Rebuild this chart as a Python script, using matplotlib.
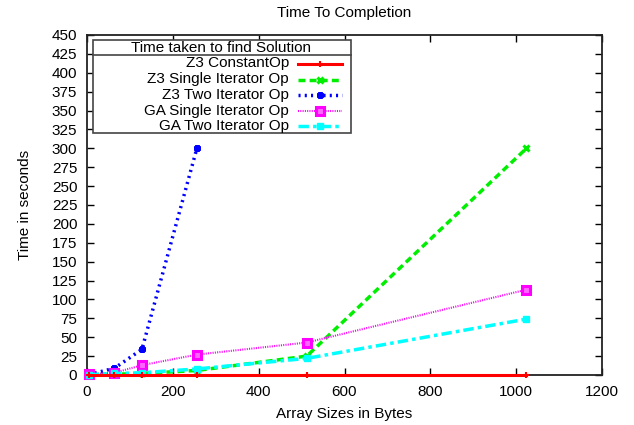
import matplotlib
matplotlib.use("Agg")
import matplotlib.pyplot as plt
from matplotlib.lines import Line2D
from matplotlib.patches import Rectangle

plt.rcParams['font.family'] = ['Liberation Sans', 'DejaVu Sans']

sizes = [4, 64, 128, 256, 512, 1024]
sizes_two = [4, 64, 128, 256]
z3_constant = [0.2, 0.2, 0.2, 0.2, 0.2, 0.2]
z3_single = [0.5, 1, 2, 6, 25, 300]
z3_two = [0.5, 9, 34, 300]
ga_single = [1, 3, 13, 27, 43, 113]
ga_two = [0.5, 2, 3, 8, 22, 74]

title = "Time To Completion"
xlabel = "Array Sizes in Bytes"
ylabel = "Time in seconds"
legend_title = "Time taken to find Solution"
labels = ["Z3 ConstantOp", "Z3 Single Iterator Op", "Z3 Two Iterator Op",
          "GA Single Iterator Op", "GA Two Iterator Op"]

FS = 11
W, H = 634, 425

fig = plt.figure(figsize=(W / 100, H / 100), dpi=100)
ax = fig.add_axes([87/W, 1-375/H, (602-87)/W, (375-35)/H])

styles = [
    dict(color='#ff0000', lw=2.2, ls='-', marker='+', ms=4, mew=1.5),
    dict(color='#00ee00', lw=2.5, ls=(0, (2, 1.2)), marker='x', ms=4.5, mew=2.2),
    dict(color='#0000ff', lw=2.5, ls=(0, (0.6, 1.2)), marker=(8, 2, 0), ms=5, mew=2.2),
    dict(color='#ff00ff', lw=1.5, ls=(0, (0.5, 0.6)), marker='s', ms=5.5, mew=2.2, mfc='#ff66ff'),
    dict(color='#00ffff', lw=2.5, ls=(0, (3, 1.2, 1, 1.2)), marker='s', ms=5, mew=1),
]
series = [(sizes, z3_constant), (sizes, z3_single), (sizes_two, z3_two),
          (sizes, ga_single), (sizes, ga_two)]
for i, ((xs, ys), st) in enumerate(zip(series, styles)):
    ax.plot(xs, ys, label=labels[i], clip_on=False, zorder=5 if i == 0 else 4, **st)

ax.set_xlim(0, 1200)
ax.set_ylim(0, 450)
ax.set_xticks(range(0, 1201, 200))
ax.set_yticks(range(0, 451, 25))
ax.tick_params(direction='in', length=5, width=1, top=True, right=True,
               labelsize=FS, pad=7, colors='black')
ax.tick_params(axis='x', labeltop=False)
ax.tick_params(axis='y', labelright=False)
for s in ax.spines.values():
    s.set_linewidth(1.3)
    s.set_color('#222222')

ax.set_title(title, fontsize=FS, pad=13)
ax.set_xlabel(xlabel, fontsize=FS, labelpad=6)
ax.set_ylabel(ylabel, fontsize=FS, labelpad=14)

# manual gnuplot-style legend (figure pixel positions)
def fx(x):
    return x / W

def fy(y):
    return 1 - y / H

bx0, bx1, by0, by1 = 92.5, 351, 40, 133
fig.add_artist(Rectangle((fx(bx0), fy(by1)), fx(bx1) - fx(bx0), fy(by0) - fy(by1),
                         transform=fig.transFigure, facecolor='white',
                         edgecolor='#444444', lw=1.2, zorder=10))
fig.add_artist(Line2D([fx(bx0), fx(bx1)], [fy(55), fy(55)], color='#444444', lw=1.2,
                      transform=fig.transFigure, zorder=11))
fig.text(fx((bx0 + bx1) / 2 - 1), fy(47.5), legend_title, ha='center', va='center',
         fontsize=FS, zorder=12)
rows = [63.5, 79.5, 95, 110.5, 126]
for yy, lab, st in zip(rows, labels, styles):
    fig.text(fx(289), fy(yy), lab, ha='right', va='center', fontsize=FS, zorder=12)
    fig.add_artist(Line2D([fx(298), fx(342)], [fy(yy), fy(yy)],
                          transform=fig.transFigure, zorder=12,
                          **{k: v for k, v in st.items() if k not in ('marker', 'ms', 'mew', 'mfc')}))
    mk = {k: v for k, v in st.items() if k in ('marker', 'ms', 'mew', 'mfc', 'color')}
    fig.add_artist(Line2D([fx(320)], [fy(yy)], transform=fig.transFigure, zorder=13,
                          ls='none', **mk))

fig.savefig("out.png", dpi=100)
